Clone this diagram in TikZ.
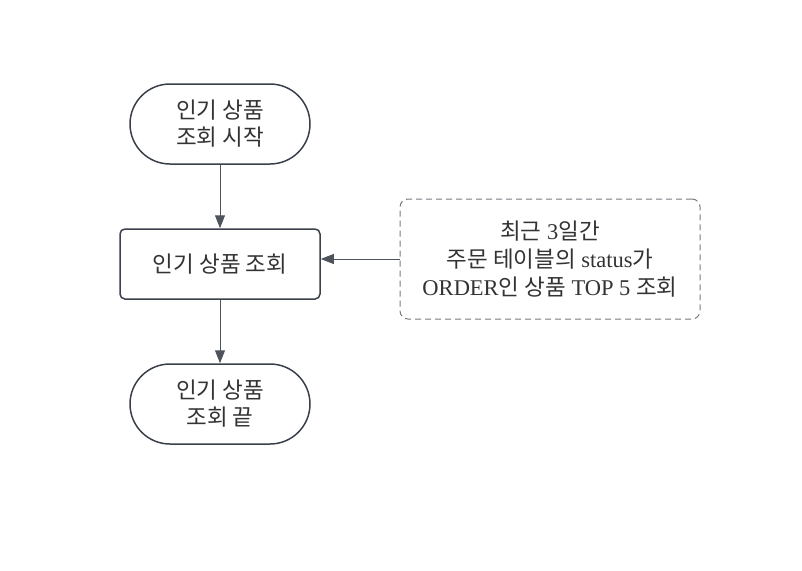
\documentclass[tikz,border=0pt]{standalone}
\usepackage{fontspec}
\setmainfont{Liberation Serif}
\newfontfamily\kr{Noto Sans CJK KR}
\usetikzlibrary{positioning,arrows.meta}
\definecolor{strokegray}{HTML}{3A414A}
\definecolor{textgray}{HTML}{333333}
\tikzset{
  terminal/.style={draw=strokegray, line width=1.5pt, rounded corners=40pt, minimum width=180pt, minimum height=80pt, align=center, text=textgray, font=\fontsize{22.5}{27}\selectfont},
  process/.style={draw=strokegray, line width=1.5pt, rounded corners=5pt, minimum width=200pt, minimum height=70pt, align=center, text=textgray, font=\fontsize{22.5}{27}\selectfont},
  note/.style={draw=strokegray!70, line width=1pt, dash pattern=on 6pt off 4pt, rounded corners=8pt, minimum width=300pt, minimum height=120pt, align=center, text=textgray, font=\fontsize{22.5}{28}\selectfont},
  flow/.style={draw=strokegray!90, line width=1pt, -{Triangle[length=13pt,width=10pt]}}
}
\begin{document}
\begin{tikzpicture}[x=1pt,y=-1pt]
\useasboundingbox (0,0) rectangle (802,570);
% flowchart nodes
\node[terminal] (start) at (220,124) {{\kr 인기 상품}\\{\kr 조회 시작}};
\node[process] (query) at (220,264) {{\kr 인기 상품 조회}};
\node[terminal] (finish) at (220,404) {{\kr 인기 상품}\\{\kr 조회 끝}};
\node[note] (cond) at (550,259) {{\kr 최근} 3{\kr 일간}\\{\kr 주문 테이블의} status{\kr 가}\\ORDER{\kr 인 상품} TOP 5 {\kr 조회}};
% connectors
\draw[flow] (start) -- (query);
\draw[flow] (query) -- (finish);
\draw[flow] (cond.west) -- (query.east |- cond.west);
\end{tikzpicture}
\end{document}
